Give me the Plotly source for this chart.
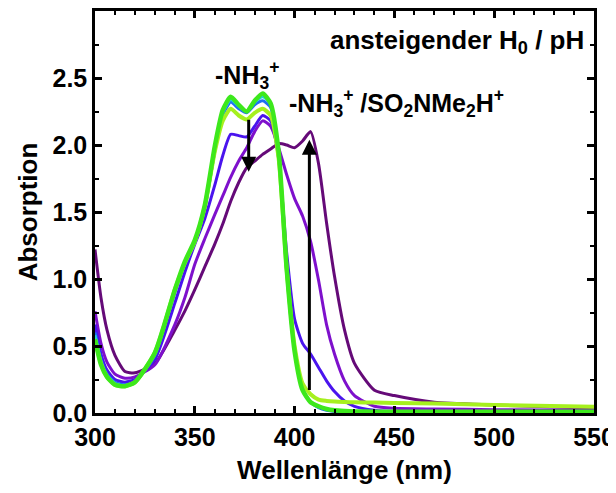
import plotly.graph_objects as go

# Wavelength grid (nm)
wavelength = [300, 303, 306, 310, 315, 320, 330, 340, 345, 350, 355, 360, 364, 368, 372, 376,
              380, 384, 388, 392, 396, 400, 404, 408, 412, 416, 420, 425, 430, 440, 450, 470, 500, 550]

# Absorption spectra (lowest H0 / pH first ... highest last)
abs_darkpurple = [1.22, 0.86, 0.62, 0.43, 0.31, 0.30, 0.37, 0.62, 0.76, 0.92, 1.09, 1.26, 1.41, 1.58, 1.72, 1.83,
                  1.88, 1.93, 1.97, 2.01, 2.00, 1.98, 2.03, 2.10, 1.86, 1.42, 1.02, 0.62, 0.37, 0.17, 0.13, 0.08, 0.06, 0.035]
abs_purple = [0.76, 0.52, 0.38, 0.29, 0.26, 0.27, 0.36, 0.66, 0.86, 1.11, 1.30, 1.48, 1.62, 1.76, 1.88, 1.98,
              2.10, 2.18, 2.14, 1.98, 1.78, 1.60, 1.47, 1.28, 0.99, 0.66, 0.44, 0.24, 0.13, 0.05, 0.035, 0.03, 0.025, 0.02]
abs_violet = [0.66, 0.44, 0.32, 0.25, 0.23, 0.25, 0.40, 0.82, 1.05, 1.26, 1.45, 1.70, 1.92, 2.08, 2.07, 2.06,
              2.14, 2.22, 2.18, 1.90, 1.20, 0.70, 0.52, 0.44, 0.34, 0.24, 0.16, 0.09, 0.05, 0.02, 0.01, 0.01, 0.01, 0.01]
abs_blue = [0.60, 0.40, 0.29, 0.23, 0.21, 0.23, 0.43, 0.90, 1.11, 1.27, 1.53, 1.95, 2.22, 2.32, 2.27, 2.24,
            2.30, 2.33, 2.28, 1.92, 1.07, 0.47, 0.18, 0.08, 0.04, 0.02, 0.012, 0.008, 0.006, 0.005, 0.005, 0.005, 0.005, 0.005]
abs_cyan = [0.58, 0.38, 0.28, 0.22, 0.20, 0.23, 0.44, 0.91, 1.12, 1.28, 1.54, 1.97, 2.24, 2.34, 2.29, 2.25,
            2.32, 2.36, 2.31, 1.93, 1.06, 0.46, 0.17, 0.08, 0.045, 0.03, 0.02, 0.015, 0.012, 0.01, 0.01, 0.01, 0.01, 0.01]
abs_yellowgreen = [0.55, 0.37, 0.27, 0.21, 0.20, 0.23, 0.45, 0.92, 1.12, 1.28, 1.54, 1.95, 2.18, 2.27, 2.22, 2.19,
                   2.24, 2.27, 2.22, 1.90, 1.08, 0.50, 0.22, 0.14, 0.10, 0.09, 0.085, 0.082, 0.08, 0.078, 0.075, 0.07, 0.06, 0.047]
abs_green = [0.55, 0.36, 0.27, 0.21, 0.20, 0.23, 0.45, 0.92, 1.13, 1.29, 1.55, 1.99, 2.26, 2.36, 2.30, 2.25,
             2.33, 2.385, 2.31, 1.95, 1.08, 0.46, 0.17, 0.08, 0.05, 0.03, 0.02, 0.015, 0.012, 0.01, 0.01, 0.01, 0.01, 0.01]

series = [
    (abs_darkpurple, "#650a78", 3),
    (abs_purple, "#7e10cc", 3),
    (abs_violet, "#4a14ee", 3),
    (abs_blue, "#1f6ff2", 3),
    (abs_cyan, "#22cfd8", 3),
    (abs_yellowgreen, "#a6f01e", 4),
    (abs_green, "#3de81c", 4.5),
]

fig = go.Figure()
for ys, col, w in series:
    fig.add_trace(go.Scatter(x=wavelength, y=ys, mode="lines",
                             line=dict(color=col, width=w, shape="spline", smoothing=0.6),
                             showlegend=False, hoverinfo="skip"))

FAM = "Liberation Sans, Arial, sans-serif"
tick_font = dict(family=FAM, size=25, color="black", weight="bold")
title_font = dict(family=FAM, size=26, color="black", weight="bold")

axis_common = dict(showline=True, linecolor="black", linewidth=2.5, mirror="allticks",
                   ticks="inside", ticklen=7, tickwidth=2.5, tickcolor="black",
                   showgrid=False, zeroline=False, tickfont=tick_font)

fig.update_xaxes(range=[300, 550], tickvals=[300, 350, 400, 450, 500, 550],
                 minor=dict(dtick=10, tick0=300, ticks="inside", ticklen=4, tickwidth=2, tickcolor="black"),
                 title=dict(text="Wellenlänge (nm)", font=title_font, standoff=12),
                 **axis_common)
fig.update_yaxes(range=[0, 3.0], tickvals=[0, 0.5, 1.0, 1.5, 2.0, 2.5], tickformat=".1f",
                 minor=dict(dtick=0.25, tick0=0, ticks="inside", ticklen=4, tickwidth=2, tickcolor="black"),
                 title=dict(text="Absorption", font=title_font, standoff=8),
                 **axis_common)

ann_font = dict(family=FAM, size=25, color="black", weight="bold")
fig.add_annotation(x=546, y=2.77, xref="x", yref="y", xanchor="right", yanchor="middle",
                   showarrow=False, text="ansteigender H<sub>0</sub> / pH",
                   font=dict(family=FAM, size=26, color="black", weight="bold"))
fig.add_annotation(x=376, y=2.52, xref="x", yref="y", showarrow=False,
                   text="-NH<sub>3</sub><sup>+</sup>", font=ann_font)
fig.add_annotation(x=451, y=2.31, xref="x", yref="y", showarrow=False,
                   text="-NH<sub>3</sub><sup>+</sup> /SO<sub>2</sub>NMe<sub>2</sub>H<sup>+</sup>", font=ann_font)

# arrows
fig.add_annotation(x=377, y=1.80, ax=377, ay=2.20, xref="x", yref="y", axref="x", ayref="y",
                   showarrow=True, arrowhead=2, arrowsize=1, arrowwidth=3, arrowcolor="black", text="")
fig.add_annotation(x=407.4, y=2.04, ax=407.4, ay=0.16, xref="x", yref="y", axref="x", ayref="y",
                   showarrow=True, arrowhead=2, arrowsize=1, arrowwidth=3, arrowcolor="black", text="")

# body margin of the page is compensated in the margins
fig.update_layout(width=616, height=493, margin=dict(l=87, r=30, t=3, b=88, autoexpand=False),
                  paper_bgcolor="white", plot_bgcolor="white")

fig.write_html("out.html")
